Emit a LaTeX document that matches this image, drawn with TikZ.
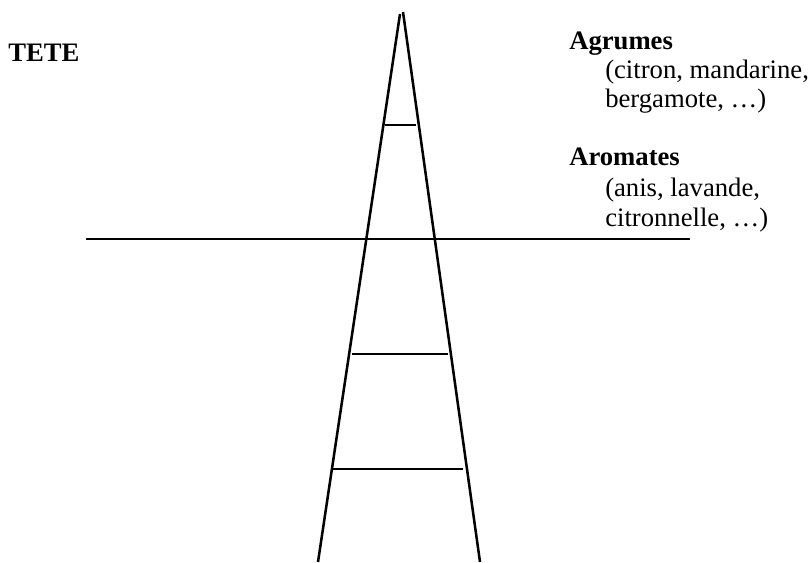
\documentclass[tikz,border=0pt]{standalone}
\usepackage{fontspec}
\setmainfont{Liberation Serif}
\usetikzlibrary{positioning}

\begin{document}
\begin{tikzpicture}[
    x=0.75pt, y=-0.75pt,
    line/.style={line width=1.9pt},
    head/.style={anchor=base west, inner sep=0pt, font=\fontsize{20}{22.5}\selectfont\bfseries},
    note/.style={anchor=base west, inner sep=0pt, font=\fontsize{20}{22.5}\selectfont}
]

\useasboundingbox (0,0) rectangle (810,562);

% Funnel sides
\coordinate (ltop) at (400,14);
\coordinate (lbot) at (318,562);
\coordinate (rtop) at (403,12);
\coordinate (rbot) at (480,562);

% Cut line
\coordinate (cutl) at (86,239);
\coordinate (cutr) at (690,239);

% Rungs
\coordinate (r1l) at (385,125);
\coordinate (r1r) at (416,125);
\coordinate (r2l) at (352,354);
\coordinate (r2r) at (448,354);
\coordinate (r3l) at (333,469);
\coordinate (r3r) at (463,469);

% Labels
\node[head] (tete) at (8,61) {TETE};

\node[head] (agrumes) at (569,49) {Agrumes};
\node[note] (agr1) at (605,78) {(citron, mandarine,};
\node[note] (agr2) at (605,107) {bergamote, …)};

\node[head] (aromates) at (569,165) {Aromates};
\node[note] (aro1) at (605,196) {(anis, lavande,};
\node[note] (aro2) at (605,226) {citronnelle, …)};

% Lines
\draw[line] (ltop) -- (lbot);
\draw[line] (rtop) -- (rbot);

\draw[line] (cutl) -- (cutr);

\draw[line] (r1l) -- (r1r);
\draw[line] (r2l) -- (r2r);
\draw[line] (r3l) -- (r3r);

\end{tikzpicture}
\end{document}
